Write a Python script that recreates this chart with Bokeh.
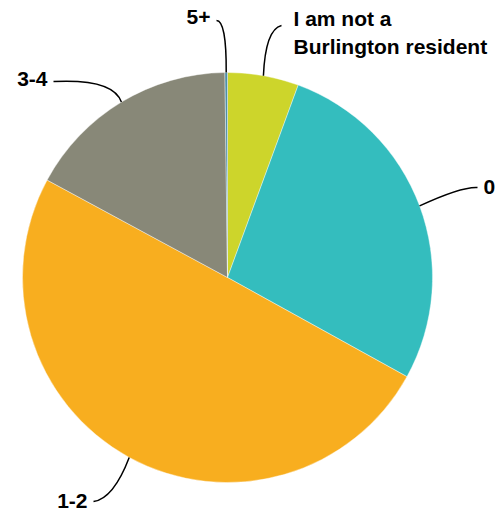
import math
from bokeh.plotting import figure
from bokeh.models import Range1d, ColumnDataSource
from bokeh.core.properties import value
from bokeh.embed import file_html
from bokeh.resources import INLINE

# Data (clockwise from top)
categories = ["I am not a Burlington resident", "0", "1-2", "3-4", "5+"]
display_labels = ["I am not a\nBurlington resident", "0", "1-2", "3-4", "5+"]
percents = [5.6, 27.4, 49.8, 16.9, 0.2]
colors = ["#CDD52B", "#34BDBE", "#F8AE1F", "#888878", "#4E8FA8"]

W, H = 501, 512
p = figure(width=W, height=H, output_backend="svg", toolbar_location=None,
           x_range=Range1d(0, W), y_range=Range1d(0, H), min_border=0)
p.axis.visible = False
p.grid.visible = False
p.outline_line_color = None
p.background_fill_color = "white"

def to_data(ix, iy):
    return ix, H - iy

cx, cy = to_data(227, 277)
R = 205

total = sum(percents)
starts, ends, mids = [], [], []
cum = 0.0
for v in percents:
    a0 = math.pi / 2 - 2 * math.pi * cum / total
    cum += v
    a1 = math.pi / 2 - 2 * math.pi * cum / total
    starts.append(a1)
    ends.append(a0)
    mids.append((a0 + a1) / 2)

src = ColumnDataSource(dict(start=starts, end=ends, color=colors, cat=categories))
p.wedge(x=cx, y=cy, radius=R, start_angle="start", end_angle="end",
        fill_color="color", line_color="white", line_width=0.4, source=src)

# Layout for labels (image coords): leader end, control point, text anchor, align
layout = {
    "I am not a Burlington resident": ((281, 25), (265, 29), (293, 32), "left"),
    "0": ((477, 187), (461, 186), (483, 186), "left"),
    "1-2": ((93, 501), (113, 498), (87, 500), "right"),
    "3-4": ((53, 81), (113, 78), (47, 78), "right"),
    "5+": ((216, 20), (226, 20), (210, 16), "right"),
}

for cat, lab, m in zip(categories, display_labels, mids):
    (ex, ey), (kx, ky), (tx, ty), align = layout[cat]
    x0 = cx + R * math.cos(m)
    y0 = cy + R * math.sin(m)
    x1, y1 = to_data(ex, ey)
    qx, qy = to_data(kx, ky)
    p.quadratic(x0=[x0], y0=[y0], x1=[x1], y1=[y1], cx=[qx], cy=[qy],
                line_color="black", line_width=1.5)
    txd, tyd = to_data(tx, ty)
    p.text(x=[txd], y=[tyd], text=[lab], text_align=align, text_baseline="middle",
           text_font=value("Liberation Sans"), text_font_style="bold",
           text_font_size="21px", text_color="black", text_line_height=1.2)

open("out.html", "w").write(file_html(p, INLINE))
